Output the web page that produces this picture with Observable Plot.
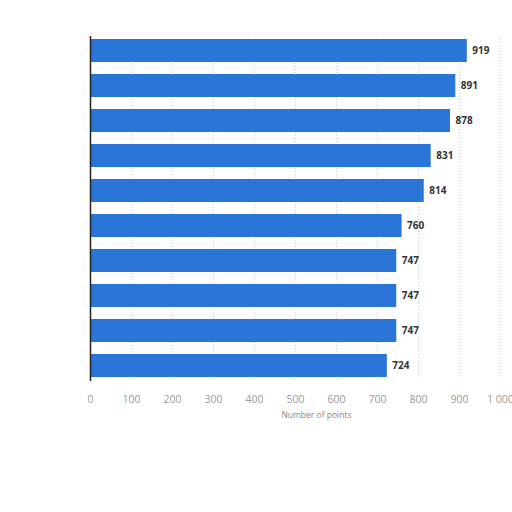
<!DOCTYPE html>
<html><head><meta charset="utf-8">
<script src="https://cdn.jsdelivr.net/npm/d3@7"></script>
<script src="https://cdn.jsdelivr.net/npm/@observablehq/plot@0.6"></script>
<style>
body{margin:0;background:#fff;font-family:"Open Sans",sans-serif;}
#c{position:absolute;left:0;top:0;}
</style></head><body><div id="c"></div>
<script>
const categories = ["1","2","3","4","5","6","7","8","9","10"];
const points = [919, 891, 878, 831, 814, 760, 747, 747, 747, 724];
const xTicks = [0,100,200,300,400,500,600,700,800,900,1000];
const data = categories.map((c,i)=>({cat:c, value:points[i]}));
const fmt = v => v>=1000 ? d3.format(",")(v).replace(",", " ") : String(v);
const chart = Plot.plot({
  width: 512, height: 430,
  marginLeft: 90, marginRight: 12, marginTop: 36, marginBottom: 49,
  style:{fontFamily:"Open Sans, sans-serif", fontSize:"10px", overflow:"visible"},
  x:{domain:[0,1000], ticks:xTicks, tickFormat:fmt, label:null},
  y:{domain:categories, paddingInner:0.34, paddingOuter:0.05, axis:null},
  marks:[
    Plot.gridX(xTicks,{stroke:"#ccc", strokeOpacity:1, strokeDasharray:"1,2"}),
    Plot.barX(data,{x:"value", y:"cat", fill:"#2a75d8"}),
    Plot.text(data,{x:"value", y:"cat", text:d=>String(d.value), dx:5, textAnchor:"start", fill:"#333", fontWeight:"bold", fontSize:10}),
    Plot.ruleX([0],{stroke:"#222", strokeWidth:1.5}),
    Plot.axisX(xTicks,{tickSize:0, tickPadding:14, tickFormat:fmt, fill:"#999", fontSize:10.5, label:null}),
    Plot.text(["Number of points"],{frameAnchor:"bottom", dy:36, fill:"#888", fontSize:8.5, x:()=>551, textAnchor:"middle"})
  ]
});
document.getElementById("c").appendChild(chart);
</script></body></html>
